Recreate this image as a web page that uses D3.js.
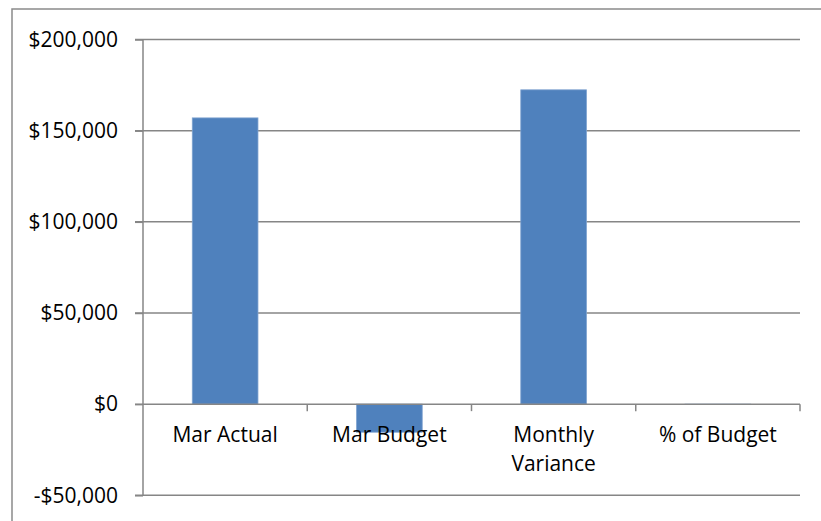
<!DOCTYPE html>
<html>
<head>
<meta charset="utf-8">
<script src="https://cdn.jsdelivr.net/npm/d3@7"></script>
<style>
  html, body { margin: 0; padding: 0; background: #fff; }
  svg { display: block; }
  text { font-family: "Open Sans", "Noto Sans", sans-serif; fill: #000; }
</style>
</head>
<body>
<svg id="chart" width="821" height="521"></svg>
<script>
const categories = ["Mar Actual", "Mar Budget", "Monthly Variance", "% of Budget"];
const values = [157000, -15400, 172400, -11];
const yTicks = [-50000, 0, 50000, 100000, 150000, 200000];

const svg = d3.select("#chart");
const plot = { left: 143, right: 800, top: 39.5, bottom: 495.3 };
const axisColor = "#868686";
const fontSize = 21;

// outer chart border (extends past the right/bottom edge of the image)
svg.append("rect")
  .attr("x", 12).attr("y", 9)
  .attr("width", 900).attr("height", 600)
  .attr("fill", "none").attr("stroke", "#8a8a8a").attr("stroke-width", 1.5);

const x = d3.scaleBand().domain(categories).range([plot.left, plot.right]).padding(0);
const y = d3.scaleLinear().domain([-50000, 200000]).range([plot.bottom, plot.top]);
const fmt = v => (v < 0 ? "-$" : "$") + d3.format(",")(Math.abs(v));

// gridlines
svg.append("g").selectAll("line").data(yTicks.filter(d => d !== 0)).join("line")
  .attr("x1", plot.left - 8).attr("x2", plot.right)
  .attr("y1", d => y(d)).attr("y2", d => y(d))
  .attr("stroke", axisColor).attr("stroke-width", 1.5);

// y axis
const yAxis = d3.axisLeft(y).tickValues(yTicks).tickFormat(fmt).tickSize(8).tickPadding(17);
const gy = svg.append("g").attr("transform", `translate(${plot.left},0)`).call(yAxis);
gy.select(".domain").remove();
gy.append("line").attr("x1", 0).attr("x2", 0).attr("y1", plot.top).attr("y2", plot.bottom)
  .attr("stroke", axisColor).attr("stroke-width", 1.5);
gy.selectAll(".tick line").attr("stroke", axisColor).attr("stroke-width", 1.5);
gy.selectAll(".tick text").attr("font-size", fontSize).attr("fill", "#000")
  .style("font-family", '"Open Sans", "Noto Sans", sans-serif');

// bars
const barFrac = 0.4;
svg.append("g").selectAll("rect").data(categories.map((c, i) => ({ c, v: values[i] }))).join("rect")
  .attr("x", d => x(d.c) + x.bandwidth() * (1 - barFrac) / 2)
  .attr("width", x.bandwidth() * barFrac)
  .attr("y", d => y(Math.max(0, d.v)))
  .attr("height", d => Math.abs(y(d.v) - y(0)))
  .attr("fill", "#4F81BD")
  .attr("stroke", "#7FA3D0").attr("stroke-width", 0.8);

// x axis at zero
const gx = svg.append("g").attr("transform", `translate(0,${y(0)})`);
gx.append("line").attr("x1", plot.left - 8).attr("x2", plot.right).attr("y1", 0).attr("y2", 0)
  .attr("stroke", axisColor).attr("stroke-width", 1.5);
const boundaries = categories.map(c => x(c) + x.bandwidth());
gx.selectAll("line.tk").data(boundaries).join("line").attr("class", "tk")
  .attr("x1", d => d).attr("x2", d => d).attr("y1", 0).attr("y2", 7)
  .attr("stroke", axisColor).attr("stroke-width", 1.5);

// category labels with wrapping
const maxW = 140;
const labels = svg.append("g");
categories.forEach(c => {
  const cx = x(c) + x.bandwidth() / 2;
  const t = labels.append("text")
    .attr("x", cx).attr("y", 442)
    .attr("text-anchor", "middle")
    .attr("font-size", fontSize);
  const words = c.split(" ");
  let line = [];
  let tspan = t.append("tspan").attr("x", cx).attr("dy", 0);
  words.forEach(w => {
    line.push(w);
    tspan.text(line.join(" "));
    if (tspan.node().getComputedTextLength() > maxW && line.length > 1) {
      line.pop();
      tspan.text(line.join(" "));
      line = [w];
      tspan = t.append("tspan").attr("x", cx).attr("dy", 29).text(w);
    }
  });
});
</script>
</body>
</html>
